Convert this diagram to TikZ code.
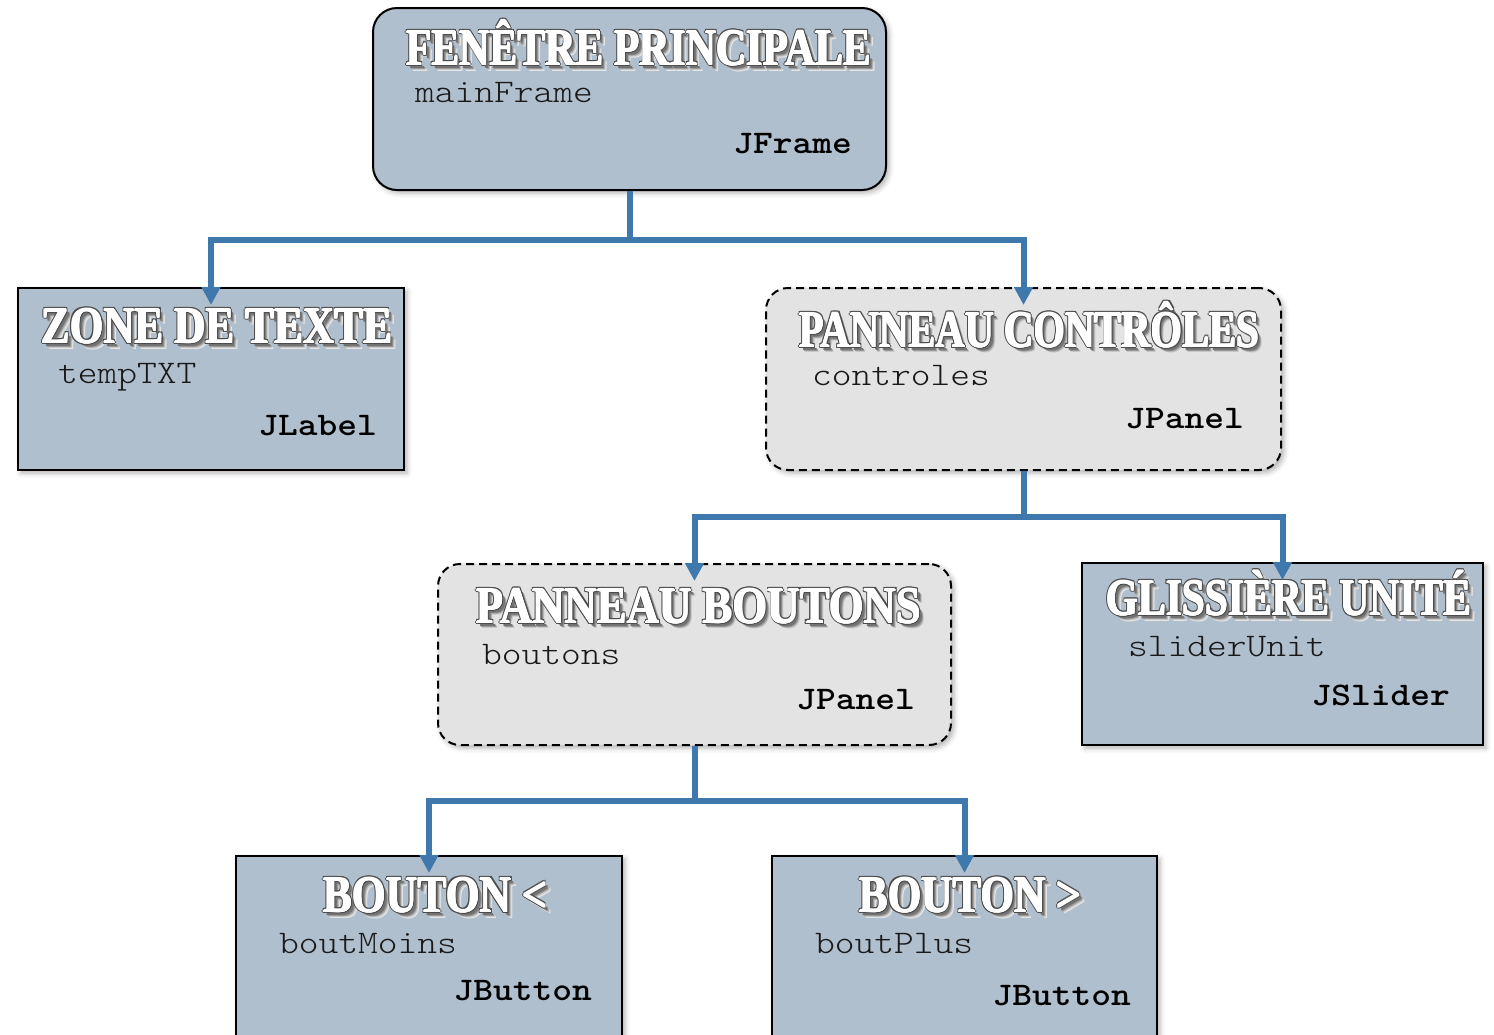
\documentclass[tikz,border=0pt]{standalone}
\usepackage{fontspec}
\usepackage{graphicx}
\usetikzlibrary{arrows.meta,shadows.blur}
\newfontfamily\titlefont{Liberation Serif}
\newfontfamily\namefont{lmmonolt10-regular.otf}[FakeStretch=1.14]
\newfontfamily\typefont{lmmonolt10-bold.otf}[FakeStretch=1.14]
\definecolor{boxfill}{HTML}{B0BFCE}
\definecolor{panelfill}{HTML}{E3E3E3}
\definecolor{linkblue}{HTML}{3F78AC}

% Embossed white title: soft drop shadow, dark outline, heavy white face
\newlength\ttlw
\newcommand\ttltext{}
\newcommand\ttlglyphs[1]{\resizebox{\ttlw}{\height}{\color{#1}\titlefont\bfseries\fontsize{52}{52}\selectfont\ttltext}}
\newcommand\ttllayer[3]{\rlap{\kern#1\raise#2\hbox{\ttlglyphs{#3}}}}
\newcommand\ttlring[3]{% eight copies around the face: straight distance #1, diagonal #2
  \ttllayer{#1}{0pt}{#3}\ttllayer{-#1}{0pt}{#3}%
  \ttllayer{0pt}{#1}{#3}\ttllayer{0pt}{-#1}{#3}%
  \ttllayer{#2}{#2}{#3}\ttllayer{-#2}{-#2}{#3}%
  \ttllayer{#2}{-#2}{#3}\ttllayer{-#2}{#2}{#3}}
\newcommand\stencil[2]{%
  \setlength\ttlw{#1}\renewcommand\ttltext{#2}%
  \ttllayer{6pt}{-6pt}{black!10}\ttllayer{5pt}{-5pt}{black!22}%
  \ttllayer{4pt}{-4pt}{black!40}\ttllayer{3pt}{-3pt}{black!55}%
  \ttlring{1.6pt}{1.1pt}{black!70}%
  \ttllayer{0.7pt}{0pt}{white}\ttllayer{-0.7pt}{0pt}{white}%
  \ttllayer{0pt}{0.4pt}{white}\ttllayer{0pt}{-0.4pt}{white}%
  \hbox{\ttlglyphs{white}}}

\tikzset{
  box/.style={draw=black, line width=2pt, fill=boxfill, inner sep=0pt,
    blur shadow={shadow xshift=3pt, shadow yshift=-3pt, shadow blur radius=5pt, shadow opacity=30}},
  framebox/.style={box, rounded corners=24pt},
  panel/.style={box, fill=panelfill, dash pattern=on 8pt off 5pt, rounded corners=22pt},
  title/.style={anchor=base west, inner sep=0pt},
  objname/.style={anchor=base west, inner sep=0pt, text=black!90,
    font=\namefont\fontsize{33}{33}\selectfont},
  objtype/.style={anchor=base east, inner sep=0pt, text=black,
    font=\typefont\fontsize{33}{33}\selectfont},
  link/.style={draw=linkblue, line width=6pt, -{Triangle[width=18pt,length=18pt]}, shorten >=-18pt}
}

\begin{document}
\begin{tikzpicture}[x=1pt,y=-1pt]
\useasboundingbox (0,0) rectangle (1494,1034);
\clip (0,0) rectangle (1494,1034);

% boxes
\node[framebox, minimum width=513pt, minimum height=182pt] (main) at (629.5,99) {};
\node[box, minimum width=386pt, minimum height=182pt] (zone) at (211,379) {};
\node[panel, minimum width=515pt, minimum height=182pt] (ctrl) at (1023.5,379) {};
\node[panel, minimum width=513pt, minimum height=181pt] (bout) at (694.5,654.5) {};
\node[box, minimum width=401pt, minimum height=182pt] (gliss) at (1282.5,654) {};
\node[box, minimum width=386pt, minimum height=204pt] (moins) at (429,958) {};
\node[box, minimum width=385pt, minimum height=204pt] (plus) at (964.5,958) {};

% titles
\node[title] (mainT) at (406,65) {\stencil{465pt}{FENÊTRE PRINCIPALE}};
\node[title] (zoneT) at (41,343) {\stencil{351pt}{ZONE DE TEXTE}};
\node[title] (ctrlT) at (799,347) {\stencil{460pt}{PANNEAU CONTRÔLES}};
\node[title] (boutT) at (476,623) {\stencil{445pt}{PANNEAU BOUTONS}};
\node[title] (glissT) at (1106,615) {\stencil{365pt}{GLISSIÈRE UNITÉ}};
\node[title] (moinsT) at (323,912) {\stencil{224pt}{BOUTON <}};
\node[title] (plusT) at (859,912) {\stencil{222pt}{BOUTON >}};

% object names
\node[objname] (mainN) at (415,102) {mainFrame};
\node[objname] (zoneN) at (58,383) {tempTXT};
\node[objname] (ctrlN) at (812,385) {controles};
\node[objname] (boutN) at (482,664) {boutons};
\node[objname] (glissN) at (1128,656) {sliderUnit};
\node[objname] (moinsN) at (279,953) {boutMoins};
\node[objname] (plusN) at (815,953) {boutPlus};

% Swing classes
\node[objtype] (mainC) at (852,153) {JFrame};
\node[objtype] (zoneC) at (377,435) {JLabel};
\node[objtype] (ctrlC) at (1244,428) {JPanel};
\node[objtype] (boutC) at (915,709) {JPanel};
\node[objtype] (glissC) at (1450,705) {JSlider};
\node[objtype] (moinsC) at (592,1000) {JButton};
\node[objtype] (plusC) at (1131,1005) {JButton};

% containment links
\draw[link] (main.south) -- ++(0,49) -| (zone.north);
\draw[link] (main.south) -- ++(0,49) -| (ctrl.north);
\draw[link] (ctrl.south) -- ++(0,46) -| (bout.north);
\draw[link] (ctrl.south) -- ++(0,46) -| (gliss.north);
\draw[link] (bout.south) -- ++(0,55) -| (moins.north);
\draw[link] (bout.south) -- ++(0,55) -| (plus.north);
\end{tikzpicture}
\end{document}
